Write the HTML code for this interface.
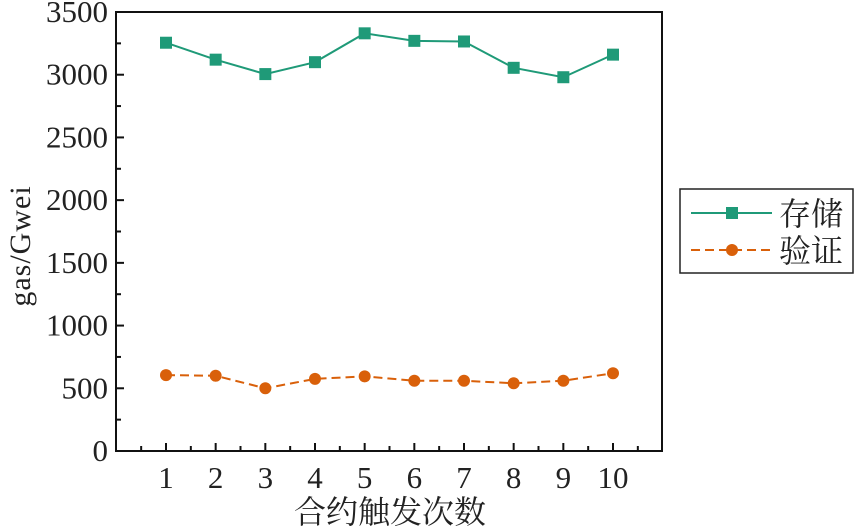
<!DOCTYPE html>
<html><head><meta charset="utf-8"><style>
html,body{margin:0;padding:0;background:#fff;width:859px;height:530px;overflow:hidden}
text{font-family:"Liberation Serif","Noto Serif CJK SC",serif;fill:#222}
</style></head><body>
<svg id="s" width="859" height="530" xmlns="http://www.w3.org/2000/svg"></svg>
<script>
const s=document.getElementById('s');
const L=116,R=662,T=12,B=451;
const X=i=>166+(i-1)*(613-166)/9;
const Y=v=>B-v*(B-T)/3500;
let h='';
h+=`<rect x="${L}" y="${T}" width="${R-L}" height="${B-T}" fill="none" stroke="#111" stroke-width="2"/>`;
for(let v=0;v<=3500;v+=250){
  const y=Y(v),maj=v%500==0;
  if(v>0&&v<3500)h+=`<line x1="${L}" x2="${L+(maj?8:5)}" y1="${y}" y2="${y}" stroke="#111" stroke-width="2"/>`;
  if(maj)h+=`<text x="108" y="${y+10}" font-size="31" text-anchor="end">${v}</text>`;
}
for(let i=0.5;i<=10.5;i+=0.5){
  const x=X(i),maj=Number.isInteger(i);
  h+=`<line x1="${x}" x2="${x}" y1="${B}" y2="${B-(maj?8:5)}" stroke="#111" stroke-width="2"/>`;
  if(maj)h+=`<text x="${x}" y="488" font-size="31" text-anchor="middle">${i}</text>`;
}
const a=[3255,3120,3005,3100,3330,3270,3265,3055,2980,3160];
const b=[605,600,500,575,595,560,560,540,560,620];
h+=`<polyline fill="none" stroke="#1f9a78" stroke-width="2" points="${a.map((v,i)=>X(i+1)+','+Y(v)).join(' ')}"/>`;
a.forEach((v,i)=>h+=`<rect x="${X(i+1)-6}" y="${Y(v)-6}" width="12" height="12" fill="#1f9a78"/>`);
h+=`<polyline fill="none" stroke="#d9600a" stroke-width="2" stroke-dasharray="9,5" points="${b.map((v,i)=>X(i+1)+','+Y(v)).join(' ')}"/>`;
b.forEach((v,i)=>h+=`<circle cx="${X(i+1)}" cy="${Y(v)}" r="6" fill="#d9600a"/>`);
h+=`<text transform="translate(30,246) rotate(-90)" font-size="30" letter-spacing="1" text-anchor="middle">gas/Gwei</text>`;
h+=`<text x="390" y="523" font-size="32" text-anchor="middle">合约触发次数</text>`;
h+=`<rect x="680" y="189" width="173" height="84" fill="#fff" stroke="#222" stroke-width="1.5"/>`;
h+=`<line x1="691" x2="772" y1="213" y2="213" stroke="#1f9a78" stroke-width="2"/><rect x="726" y="207" width="12" height="12" fill="#1f9a78"/>`;
h+=`<line x1="691" x2="772" y1="250" y2="250" stroke="#d9600a" stroke-width="2" stroke-dasharray="9,5"/><circle cx="732" cy="250" r="6" fill="#d9600a"/>`;
h+=`<text x="779" y="225" font-size="32">存储</text><text x="779" y="262" font-size="32">验证</text>`;
s.innerHTML=h;
</script>
</body></html>
